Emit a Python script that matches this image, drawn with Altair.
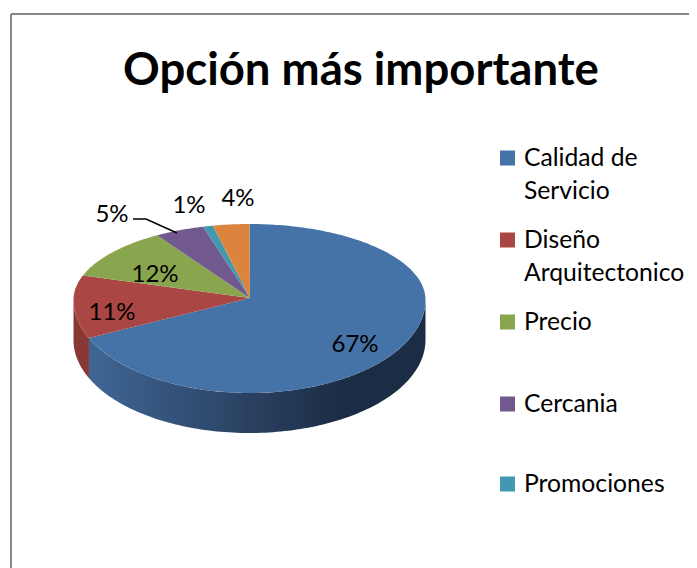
import numpy as np
import pandas as pd
import altair as alt

TITLE = "Opción más importante"
categories = ["Calidad de Servicio", "Diseño Arquitectonico", "Precio", "Cercania", "Promociones", "Otros"]
values = [67, 11, 12, 5, 1, 4]
top_colors = ["#4573a7", "#aa4643", "#89a54e", "#71588f", "#4198af", "#db843d"]
label_text = ["67%", "11%", "12%", "5%", "1%", "4%"]
label_x = [355, 112, 155, 112, 189, 238]
label_y = [345, 313, 275, 215, 206, 199]
legend_lines = [["Calidad de", "Servicio"], ["Diseño", "Arquitectonico"], ["Precio"], ["Cercania"], ["Promociones"]]
legend_y = [158, 240, 322, 404, 484]

CX, CY, RX, RU, RL, DEPTH = 249.5, 300.0, 176.0, 76.0, 93.0, 40.0
APEX = (250.0, 298.0)
PW, PH = 681, 560
LEGEND_SYMBOL_X, LEGEND_TEXT_X, LEGEND_LINE = 507.5, 524, 33
# angular distortion of the reference's 3-D perspective view (degrees)
PERSP_AT = [0, 241.2, 280.8, 324, 342, 345.6, 360]
PERSP_BY = [0, 4.6, 8, 4.3, 2.7, 2.4, 0]


def rim(t):
    t = np.asarray(t, float)
    deg = np.degrees(t)
    t = np.radians(deg + np.interp(deg, PERSP_AT, PERSP_BY))
    c = np.cos(t)
    return CX + RX * np.sin(t), CY - np.where(c > 0, RU, RL) * c


rows = []
edges = np.cumsum([0] + values) / sum(values) * 2 * np.pi
for cat, a, b in zip(categories, edges[:-1], edges[1:]):
    ts = np.linspace(a, b, max(8, int((b - a) * 60)))
    xs, ys = rim(ts)
    rows.append(dict(cat=cat, i=0, x=APEX[0], y=APEX[1]))
    rows += [dict(cat=cat, i=k + 1, x=float(x), y=float(y)) for k, (x, y) in enumerate(zip(xs, ys))]
top = pd.DataFrame(rows)


def side(a, b):
    ts = np.linspace(a, b, 120)
    xs, ys = rim(ts)
    px = list(xs) + list(xs[::-1])
    py = list(ys) + list(ys[::-1] + DEPTH)
    return pd.DataFrame(dict(i=range(len(px)), x=px, y=py))


xs_scale = alt.Scale(domain=[8, 8 + PW], range=[0, PW])
ys_scale = alt.Scale(domain=[8 + PH, 8], range=[PH, 0])
X = lambda f="x": alt.X(f"{f}:Q", scale=xs_scale, axis=None)
Y = lambda f="y": alt.Y(f"{f}:Q", scale=ys_scale, axis=None)
color_scale = alt.Scale(domain=categories, range=top_colors)

blue_grad = alt.Gradient(
    gradient="linear", x1=0, x2=1, y1=0, y2=0,
    stops=[alt.GradientStop(offset=0, color="#3f6695"),
           alt.GradientStop(offset=0.45, color="#2b4364"),
           alt.GradientStop(offset=0.75, color="#1b2d45"),
           alt.GradientStop(offset=1, color="#1b2d45")],
)
blue_side = alt.Chart(side(np.radians(88), edges[1])).mark_line(
    interpolate="linear-closed", fill=blue_grad, strokeWidth=0
).encode(x=X(), y=Y(), order="i:Q")
red_side = alt.Chart(side(edges[1], np.radians(264))).mark_line(
    interpolate="linear-closed", fill="#8a3836", strokeWidth=0
).encode(x=X(), y=Y(), order="i:Q")

slices = alt.Chart(top).mark_line(interpolate="linear-closed", strokeWidth=0).encode(
    x=X(), y=Y(), order="i:Q",
    fill=alt.Fill("cat:N", scale=color_scale, legend=None),
)

labels = alt.Chart(pd.DataFrame(dict(t=label_text, x=label_x, y=label_y))).mark_text(
    font="Lato", fontSize=24, color="#000000", align="center", baseline="middle"
).encode(x=X(), y=Y(), text="t:N")

leader = alt.Chart(pd.DataFrame(dict(i=[0, 1, 2], x=[133, 146, 177], y=[219, 219, 233]))).mark_line(
    color="#000000", strokeWidth=1.5
).encode(x=X(), y=Y(), order="i:Q")

legend_sym = alt.Chart(pd.DataFrame(dict(cat=categories[:5], x=[LEGEND_SYMBOL_X] * 5, y=legend_y))).mark_square(
    size=225, opacity=1, strokeWidth=0
).encode(x=X(), y=Y(), fill=alt.Fill("cat:N", scale=color_scale, legend=None))

legend_rows = [dict(t=line, x=LEGEND_TEXT_X, y=y0 + 1 + k * LEGEND_LINE)
               for lines, y0 in zip(legend_lines, legend_y) for k, line in enumerate(lines)]
legend_txt = alt.Chart(pd.DataFrame(legend_rows)).mark_text(
    font="Lato", fontSize=24.7, color="#000000", align="left", baseline="middle"
).encode(x=X(), y=Y(), text="t:N")

border_h = alt.Chart(pd.DataFrame(dict(x=[11], x2=[697], y=[14]))).mark_rule(
    color="#868686", strokeWidth=2).encode(x=X(), x2="x2:Q", y=Y())
border_v = alt.Chart(pd.DataFrame(dict(x=[11], y=[14], y2=[568]))).mark_rule(
    color="#868686", strokeWidth=2).encode(x=X(), y=Y(), y2="y2:Q")

chart = alt.layer(border_h, border_v, blue_side, red_side, slices, leader, labels, legend_sym, legend_txt).properties(
    width=PW, height=PH, padding=0, autosize=alt.AutoSizeParams(type="none"),
    title=alt.TitleParams(TITLE, font="Lato", fontSize=45.5, fontWeight="bold", color="#000000",
                          anchor="start", frame="group", baseline="alphabetic", offset=0, dy=122, dx=115),
).configure_view(stroke=None)

chart.save("out.html", embed_options={"renderer": "svg", "actions": False})
